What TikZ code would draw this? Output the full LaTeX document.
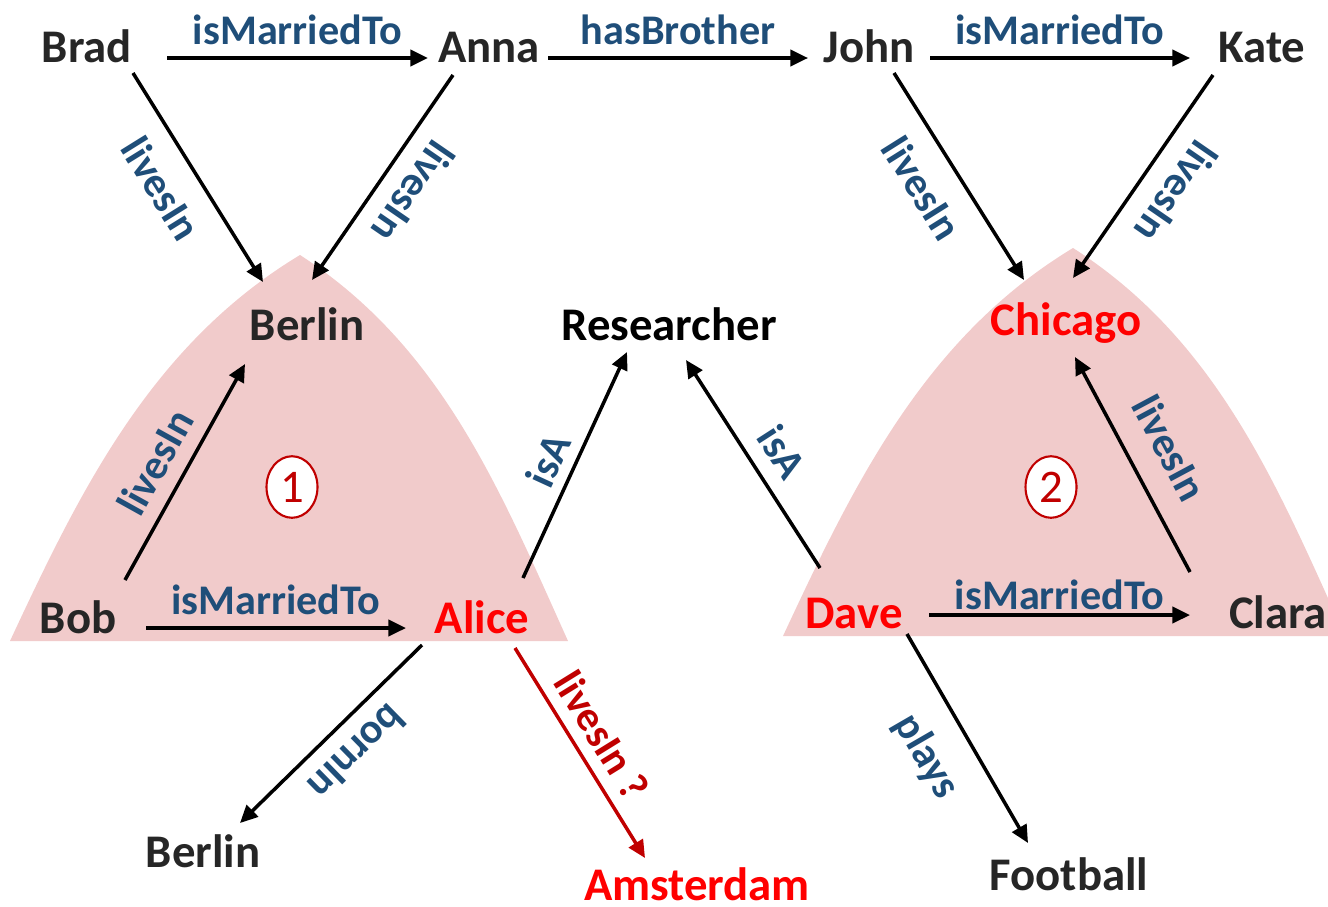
\documentclass[tikz,border=0pt]{standalone}
\usepackage{fontspec}
\setmainfont{Carlito}
\usetikzlibrary{arrows.meta,shapes.geometric}
\definecolor{ink}{HTML}{262626}
\definecolor{relblue}{HTML}{1F4E79}
\definecolor{hot}{HTML}{FF0000}
\definecolor{darkred}{HTML}{C00000}
\definecolor{blush}{HTML}{F1CBCB}

\begin{document}
\begin{tikzpicture}[x=0.01cm,y=-0.01cm,
  ent/.style={font=\bfseries\fontsize{13.3}{16}\selectfont,text=ink,inner sep=0pt,anchor=base},
  rel/.style={draw=black,line width=1pt,-{Triangle[length=5pt,width=4.6pt]}},
  lbl/.style={font=\bfseries\fontsize{12}{14}\selectfont,text=relblue,inner sep=0pt,sloped},
  tag/.style={ellipse,draw=darkred,fill=white,text=darkred,line width=0.6pt,minimum width=14.5pt,minimum height=17.5pt,inner sep=0pt,font=\fontsize{13.3}{16}\selectfont}]
  \useasboundingbox (0,0) rectangle (1328,906);
  % the two shaded triangles
  \fill[blush] (10,641) .. controls (80,491) and (151,345) .. (300,255) .. controls (442,347) and (500,490) .. (568,641) -- cycle;
  \fill[blush] (783,636) .. controls (853,486) and (924,338) .. (1073,248) .. controls (1217,340) and (1277,485) .. (1345,636) -- cycle;
  % entities
  \node[ent] (brad) at (87,62) {Brad};
  \node[ent] (anna) at (489,62) {Anna};
  \node[ent] (john) at (869,62) {John};
  \node[ent] (kate) at (1262,62) {Kate};
  \node[ent] (berlin) at (307,340) {Berlin};
  \node[ent,text=black] (researcher) at (669,340) {Researcher};
  \node[ent,text=hot] (chicago) at (1066,335) {Chicago};
  \node[ent] (bob) at (78,633) {Bob};
  \node[ent,text=hot] (alice) at (482,633) {Alice};
  \node[ent,text=hot] (dave) at (854,628) {Dave};
  \node[ent] (clara) at (1278,628) {Clara};
  \node[ent] (birth) at (203,867) {Berlin};
  \node[ent,text=hot] (amsterdam) at (697,900) {Amsterdam};
  \node[ent] (football) at (1069,890) {Football};
  \node[tag] (one) at (292,487) {1};
  \node[tag] (two) at (1051,487) {2};
  % top row
  \draw[rel] ([shift={(80,-4)}]brad.base) -- node[lbl,yshift=7.9pt]{isMarriedTo} ([shift={(-61,-4)}]anna.base);
  \draw[rel] ([shift={(59,-4)}]anna.base) -- node[lbl,yshift=7.9pt]{hasBrother} ([shift={(-61,-4)}]john.base);
  \draw[rel] ([shift={(61,-4)}]john.base) -- node[lbl,yshift=7.9pt]{isMarriedTo} ([shift={(-72,-4)}]kate.base);
  \draw[rel] ([shift={(46,11)}]brad.base) -- node[lbl,pos=.46,yshift=-10.5pt]{livesIn} ([shift={(-44,-58)}]berlin.base);
  \draw[rel] ([shift={(-36,13)}]anna.base) -- node[lbl,allow upside down,pos=.476,yshift=9.6pt]{livesIn} ([shift={(5,-60)}]berlin.base);
  \draw[rel] ([shift={(25,11)}]john.base) -- node[lbl,pos=.46,yshift=-10.6pt]{livesIn} ([shift={(-42,-55)}]chicago.base);
  \draw[rel] ([shift={(-49,13)}]kate.base) -- node[lbl,allow upside down,pos=.474,yshift=10.4pt]{livesIn} ([shift={(7,-57)}]chicago.base);
  % inside the triangles
  \draw[rel] ([shift={(47,-53)}]bob.base) -- node[lbl,pos=.476,yshift=8.8pt]{livesIn} ([shift={(-62,24)}]berlin.base);
  \draw[rel] ([shift={(68,-5)}]bob.base) -- node[lbl,yshift=7.9pt]{isMarriedTo} ([shift={(-76,-5)}]alice.base);
  \draw[rel] ([shift={(-88,-56)}]clara.base) -- node[lbl,pos=.487,yshift=11.6pt]{livesIn} ([shift={(9,22)}]chicago.base);
  \draw[rel] ([shift={(75,-13)}]dave.base) -- node[lbl,yshift=5.7pt]{isMarriedTo} ([shift={(-88,-13)}]clara.base);
  \draw[rel] ([shift={(41,-55)}]alice.base) -- node[lbl,pos=.473,yshift=7.6pt]{isA} ([shift={(-42,12)}]researcher.base);
  \draw[rel] ([shift={(-34,-60)}]dave.base) -- node[lbl,pos=.477,yshift=8.8pt]{isA} ([shift={(17,20)}]researcher.base);
  % bottom
  \draw[rel] ([shift={(-60,12)}]alice.base) -- node[lbl,allow upside down,pos=.479,yshift=9pt]{bornIn} ([shift={(37,-44)}]birth.base);
  \draw[rel,draw=darkred] ([shift={(33,15)}]alice.base) -- node[lbl,text=darkred,pos=.485,yshift=8pt]{livesIn ?} ([shift={(-52,-42)}]amsterdam.base);
  \draw[rel] ([shift={(53,6)}]dave.base) -- node[lbl,pos=.48,yshift=-12.8pt]{plays} ([shift={(-41,-47)}]football.base);
\end{tikzpicture}
\end{document}
